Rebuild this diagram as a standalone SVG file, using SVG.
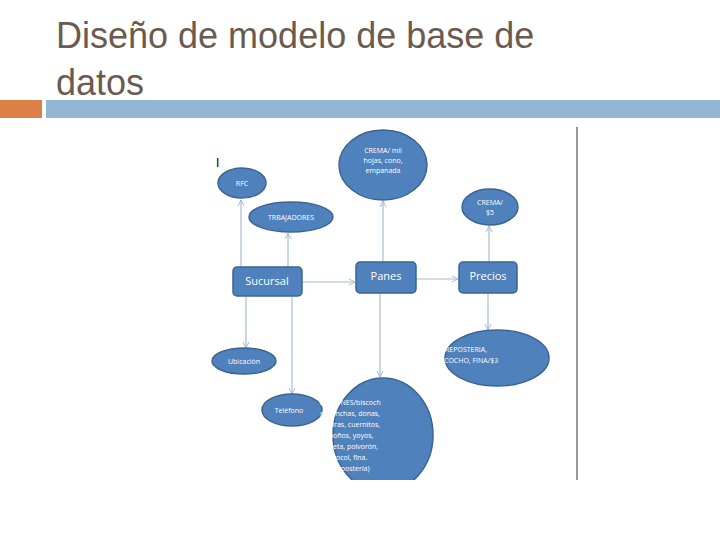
<svg xmlns="http://www.w3.org/2000/svg" width="720" height="540" viewBox="0 0 720 540">
<style>
.t{font-family:"Liberation Sans",Arial,sans-serif;fill:#6b5b4f;font-size:36px}
.n{fill:#4f81bd;stroke:#3a6592;stroke-width:1.5}
.l{font-family:"Open Sans","Liberation Sans",sans-serif;fill:#fff;font-size:7px;text-anchor:middle}
.b{font-family:"Open Sans","Liberation Sans",sans-serif;fill:#fff;font-size:11px;text-anchor:middle}
.c{stroke:#a6bcd6;stroke-width:1.2;fill:none;marker-end:url(#a)}
</style>
<defs>
<marker id="a" markerWidth="8" markerHeight="8" refX="7" refY="4" orient="auto" markerUnits="userSpaceOnUse"><path d="M1,1 L7,4 L1,7" fill="none" stroke="#a6bcd6" stroke-width="1"/></marker>
<clipPath id="cp"><rect x="0" y="0" width="720" height="480"/></clipPath>
</defs>
<rect width="720" height="540" fill="#fff"/>
<text class="t" x="56" y="48">Diseño de modelo de base de</text>
<text class="t" x="56" y="95">datos</text>
<rect x="0" y="100" width="42" height="18" fill="#dd8047"/>
<rect x="46" y="100" width="674" height="18" fill="#94b6d2"/>
<line x1="577" y1="127" x2="577" y2="480" stroke="#999" stroke-width="2"/>
<text x="216" y="167" font-family="Liberation Sans,sans-serif" font-size="12" fill="#000">I</text>
<g id="connectors">
<line class="c" x1="241" y1="267" x2="241" y2="200"/>
<line class="c" x1="288" y1="267" x2="288" y2="233"/>
<line class="c" x1="302" y1="282" x2="355" y2="282"/>
<line class="c" x1="383" y1="262" x2="383" y2="201"/>
<line class="c" x1="416" y1="279" x2="458" y2="279"/>
<line class="c" x1="489" y1="262" x2="489" y2="226"/>
<line class="c" x1="246" y1="296" x2="246" y2="348"/>
<line class="c" x1="292" y1="296" x2="292" y2="394"/>
<line class="c" x1="380" y1="293" x2="380" y2="377"/>
<line class="c" x1="488" y1="293" x2="488" y2="330"/>
</g>
<g id="rfc"><ellipse class="n" cx="242" cy="183" rx="24" ry="15"/><text class="l" x="242" y="186">RFC</text></g>
<g id="trabajadores"><ellipse class="n" cx="291" cy="217" rx="42" ry="15"/><text class="l" x="291" y="220">TRBAJADORES</text></g>
<g id="crema1"><ellipse class="n" cx="383" cy="165" rx="44" ry="35"/><text class="l" x="383" y="153">CREMA/ mil</text><text class="l" x="383" y="163">hojas, cono,</text><text class="l" x="383" y="173">empanada</text></g>
<g id="crema5"><ellipse class="n" cx="490" cy="207" rx="28" ry="18"/><text class="l" x="490" y="205">CREMA/</text><text class="l" x="490" y="215">$5</text></g>
<g id="sucursal"><rect class="n" x="233" y="267" width="69" height="29" rx="4"/><text class="b" x="267" y="285">Sucursal</text></g>
<g id="panes"><rect class="n" x="356" y="262" width="60" height="31" rx="4"/><text class="b" x="386" y="280" font-size="12">Panes</text></g>
<g id="precios"><rect class="n" x="459" y="262" width="58" height="31" rx="4"/><text class="b" x="488" y="280" font-size="12">Precios</text></g>
<g id="ubicacion"><ellipse class="n" cx="244" cy="361" rx="32" ry="13"/><text class="l" x="244" y="364">Ubicación</text></g>
<g id="telefono"><ellipse class="n" cx="292" cy="410" rx="30" ry="16"/><text class="l" x="289" y="413">Teléfono</text></g>
<g id="reposteria"><ellipse class="n" cx="497" cy="358" rx="52" ry="28"/><text class="l" x="466" y="352" text-anchor="start">REPOSTERIA,</text><text class="l" x="466" y="363" text-anchor="start">BISCOCHO, FINA/$3</text></g>
<g id="comunes" clip-path="url(#cp)"><ellipse class="n" cx="383" cy="435" rx="50" ry="57"/>
<g class="l" style="text-anchor:start"><text class="l" x="350" y="405" text-anchor="start">COMUNES/biscoch</text><text class="l" x="350" y="416" text-anchor="start">o, conchas, donas,</text><text class="l" x="350" y="427" text-anchor="start">piedras, cuernitos,</text><text class="l" x="350" y="438" text-anchor="start">moños, yoyos,</text><text class="l" x="350" y="449" text-anchor="start">galleta, polvorón,</text><text class="l" x="350" y="460" text-anchor="start">cocol, fina.</text><text class="l" x="350" y="471" text-anchor="start">(Repostería)</text></g></g>
</svg>
